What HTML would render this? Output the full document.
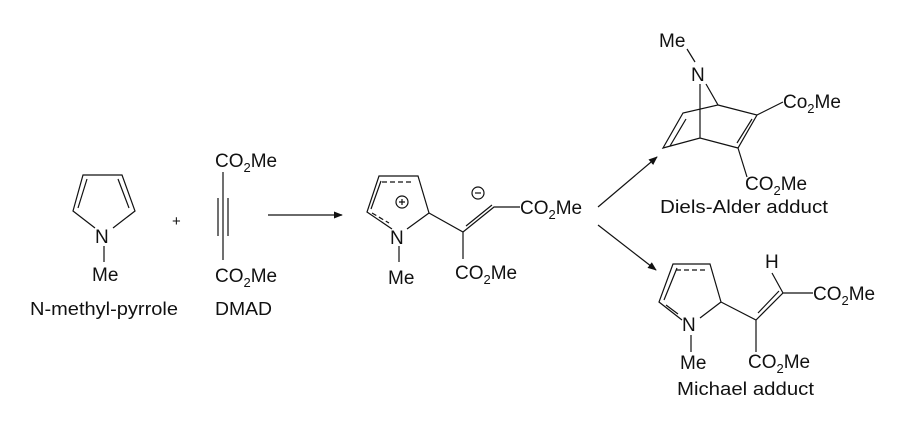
<!DOCTYPE html>
<html><head><meta charset="utf-8"><style>html,body{margin:0;padding:0;background:#fff}svg{display:block}text{font-family:"Liberation Sans",Arial,sans-serif;fill:#111}</style></head><body>
<svg width="923" height="435" viewBox="0 0 923 435" xmlns="http://www.w3.org/2000/svg">
<defs><marker id="ah" viewBox="0 0 10 10" refX="9" refY="5" markerWidth="9" markerHeight="9" orient="auto" markerUnits="userSpaceOnUse"><path d="M0,1 L10,5 L0,9 z" fill="#111"/></marker></defs>
<g stroke="#111" stroke-width="1.2" fill="none">
<path d="M95,228 L73,211 L83,175 L122,175 L135,211 L113,228"/>
<path d="M78,208 L87,179 M118,179 L129,208"/>
<path d="M104,246 L104,262"/>
<path d="M223,172 L223,260 M218,198 L218,236 M228,198 L228,236"/>
<path d="M268,215 L342,215" marker-end="url(#ah)"/>
<path d="M392,229 L367,212 L379,176 L418,176 L429,213 L407,229"/>
<path d="M382,182 L414,182 M372,213 L389,223" stroke-dasharray="5,3"/>
<path d="M371,209 L381,181"/>
<path d="M399,246 L399,262"/>
<path d="M429,213 L463,232 L494,207 L520,207 M463,232 L463,259 M466,226 L492,205"/>
<circle cx="402" cy="202" r="6"/><path d="M399,202 L405,202 M402,199 L402,205"/>
<circle cx="478" cy="193" r="6"/><path d="M475,193 L481,193"/>
<path d="M598,207 L657,157" marker-end="url(#ah)"/>
<path d="M598,225 L656,270" marker-end="url(#ah)"/>
<path d="M687,49 L695,62 M700,84 L700,138 M706,84 L718,105 L683,113 L663,148 L700,138 L738,148 L757,115 L718,105 M757,115 L783,102 M738,148 L747,177"/>
<path d="M686,119 L670,146 M752,119 L737,143"/>
<path d="M682,320 L659,302 L673,264 L710,264 L721,302 L700,318"/>
<path d="M676,270 L707,270" stroke-dasharray="5,3"/>
<path d="M664,300 L677,268 M666,305 L678,314"/>
<path d="M691,335 L691,352"/>
<path d="M721,302 L756,320 L783,293 L813,293 M783,293 L772,273 M756,320 L756,352 M758,313 L779,291"/>
</g>
<g font-size="19">
<text x="95" y="243">N</text>
<text x="92" y="281">Me</text>
<text x="30" y="315" font-size="18" textLength="148" lengthAdjust="spacingAndGlyphs">N-methyl-pyrrole</text>
<text x="172" y="226" font-size="15">+</text>
<text x="215" y="167">CO<tspan font-size="13" dy="5">2</tspan><tspan dy="-5">Me</tspan></text>
<text x="215" y="282">CO<tspan font-size="13" dy="5">2</tspan><tspan dy="-5">Me</tspan></text>
<text x="215" y="315" font-size="18" textLength="57" lengthAdjust="spacingAndGlyphs">DMAD</text>
<text x="390" y="244">N</text>
<text x="388" y="284">Me</text>
<text x="520" y="214">CO<tspan font-size="13" dy="5">2</tspan><tspan dy="-5">Me</tspan></text>
<text x="455" y="279">CO<tspan font-size="13" dy="5">2</tspan><tspan dy="-5">Me</tspan></text>
<text x="659" y="47">Me</text>
<text x="691" y="81">N</text>
<text x="783" y="108">Co<tspan font-size="13" dy="5">2</tspan><tspan dy="-5">Me</tspan></text>
<text x="745" y="190">CO<tspan font-size="13" dy="5">2</tspan><tspan dy="-5">Me</tspan></text>
<text x="660" y="213" font-size="18" textLength="168" lengthAdjust="spacingAndGlyphs">Diels-Alder adduct</text>
<text x="765" y="268">H</text>
<text x="682" y="331">N</text>
<text x="680" y="369">Me</text>
<text x="813" y="300">CO<tspan font-size="13" dy="5">2</tspan><tspan dy="-5">Me</tspan></text>
<text x="748" y="368">CO<tspan font-size="13" dy="5">2</tspan><tspan dy="-5">Me</tspan></text>
<text x="677" y="395" font-size="18" textLength="137" lengthAdjust="spacingAndGlyphs">Michael adduct</text>
</g>
</svg>
</body></html>
